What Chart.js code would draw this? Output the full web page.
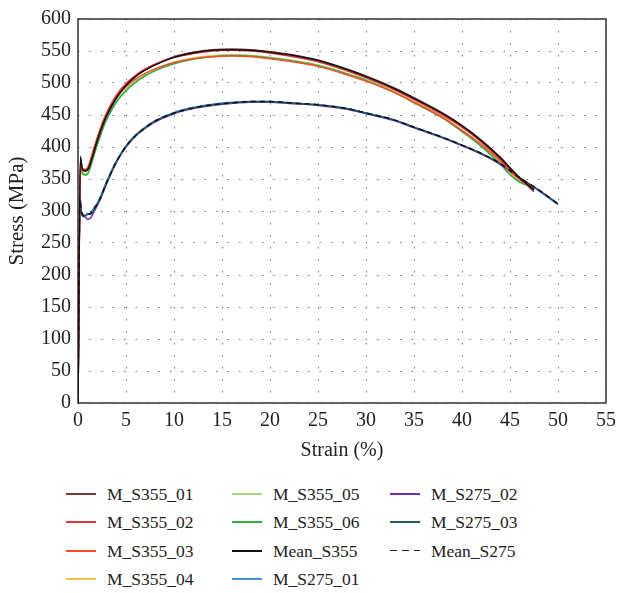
<!DOCTYPE html>
<html>
<head>
<meta charset="utf-8">
<script src="https://cdn.jsdelivr.net/npm/chart.js@4.4.1/dist/chart.umd.min.js"></script>
<style>
  body { margin: 0; background: #fff; }
  #wrap { position: relative; width: 618px; height: 593px; }
  #chartBox { position: absolute; left: 0; top: 0; width: 618px; height: 470px; }
  #legend { position: absolute; left: 0; top: 480px; width: 618px; font-family: "Liberation Serif", serif; font-size: 17.5px; color: #222; }
  .item { position: absolute; height: 28px; line-height: 28px; white-space: nowrap; }
  .swatch { position: absolute; top: 13px; width: 30px; height: 2px; }
  .txt { position: absolute; left: 41px; top: 0; }
</style>
</head>
<body>
<div id="wrap">
  <div id="chartBox"><canvas id="stressChart"></canvas></div>
  <div id="legend"></div>
</div>
<script>
// strain (%) sample points
const strainS355 = [0, 0.25, 0.45, 0.8, 1.1, 1.6, 2, 2.6, 3, 4, 5, 6, 7, 8, 10, 12, 14, 16, 18, 20, 22, 25, 28, 30, 33, 35, 38, 40, 42, 44, 45, 46, 47.5];
const strainS275 = [0, 0.2, 0.35, 0.6, 1.0, 1.3, 1.7, 2.2, 3, 4, 5, 6, 7, 8, 10, 12, 14, 16, 18, 20, 22, 25, 28, 30, 33, 35, 38, 40, 42, 44, 46, 48, 50];

// stress (MPa)
const m355_01 = [0, 382, 364, 362, 366, 388, 408, 434, 448, 476, 496, 511, 521, 529, 541, 548, 552, 553, 552, 549, 545, 536, 522, 511, 492, 477, 453, 434, 411, 384, 368, 352, 330];
const m355_02 = [0, 380, 366, 365, 371, 395, 414, 440, 454, 481, 499, 512, 522, 529, 540, 546, 550, 551, 550, 547, 542, 533, 519, 508, 489, 474, 450, 431, 408, 381, 365, 350, 334];
const m355_03 = [0, 378, 364, 363, 369, 394, 413, 439, 452, 478, 494, 506, 515, 522, 532, 538, 541, 542, 541, 538, 534, 526, 513, 503, 485, 470, 446, 426, 404, 378, 362, 349, 336];
const m355_04 = [0, 373, 361, 358, 362, 386, 405, 431, 445, 472, 490, 503, 513, 521, 532, 539, 543, 544, 543, 540, 536, 528, 515, 505, 486, 471, 447, 426, 403, 376, 361, 347, 337];
const m355_05 = [0, 372, 360, 357, 361, 385, 404, 430, 444, 471, 489, 502, 512, 520, 531, 538, 542, 544, 543, 540, 536, 528, 515, 505, 486, 470, 446, 425, 402, 374, 358, 346, 338];
const m355_06 = [0, 374, 358, 356, 360, 384, 403, 429, 443, 470, 488, 501, 511, 519, 530, 537, 541, 543, 542, 539, 535, 527, 514, 504, 485, 469, 445, 424, 401, 373, 357, 345, 337];
const mean355 = [0, 385, 366, 363, 367, 390, 410, 436, 450, 477, 496, 510, 520, 528, 540, 547, 551, 552, 551, 548, 544, 535, 521, 510, 491, 476, 452, 433, 410, 383, 367, 352, 333];
const m275_01 = [0, 325, 302, 292, 294, 297, 306, 318, 347, 378, 402, 419, 431, 441, 454, 462, 467, 470, 471, 471, 469, 466, 460, 453, 442, 431, 415, 403, 390, 373, 352, 332, 310];
const m275_02 = [0, 315, 298, 294, 287, 289, 300, 314, 343, 376, 400, 417, 429, 439, 452, 460, 465, 468, 470, 470, 468, 465, 459, 452, 441, 430, 414, 402, 389, 373, 351, 332, 311];
const m275_03 = [0, 320, 296, 291, 296, 295, 303, 316, 345, 377, 401, 418, 430, 440, 453, 461, 466, 469, 471, 471, 469, 466, 460, 453, 442, 431, 415, 403, 390, 374, 352, 333, 311];
const mean275 = [0, 318, 300, 293, 295, 296, 304, 316, 345, 377, 401, 418, 430, 440, 453, 461, 466, 469, 471, 471, 469, 466, 460, 453, 442, 431, 415, 403, 390, 374, 352, 333, 311];

const seriesNames = ['M_S355_01', 'M_S355_02', 'M_S355_03', 'M_S355_04', 'M_S355_05', 'M_S355_06', 'Mean_S355', 'M_S275_01', 'M_S275_02', 'M_S275_03', 'Mean_S275'];
const seriesStress = [m355_01, m355_02, m355_03, m355_04, m355_05, m355_06, mean355, m275_01, m275_02, m275_03, mean275];
const seriesColors = ['#7d3a3a', '#e3343c', '#ff4a26', '#f4c24a', '#a6d77e', '#2fae45', '#111111', '#4a8fd0', '#6c2fb0', '#1d5f62', '#111111'];
// draw order: lower number = on top
const seriesOrder = [3, 2, 1, 9, 8, 7, 0, 6, 5, 4, -1];

const FONT = '"Liberation Serif", "Times New Roman", serif';

const datasets = seriesNames.map((name, i) => {
    const strain = i < 7 ? strainS355 : strainS275;
    return {
        label: name,
        data: strain.map((x, j) => ({ x: x, y: seriesStress[i][j] })),
        borderColor: seriesColors[i],
        borderWidth: 1.5,
        borderDash: name === 'Mean_S275' ? [5, 4] : [],
        pointRadius: 0,
        fill: false,
        cubicInterpolationMode: 'monotone',
        order: seriesOrder[i]
    };
});

const boxPlugin = {
    id: 'box',
    beforeDatasetsDraw(chart) {
        const a = chart.chartArea, ctx = chart.ctx;
        ctx.save();
        ctx.strokeStyle = '#333';
        ctx.lineWidth = 1.5;
        ctx.strokeRect(a.left, a.top, a.right - a.left, a.bottom - a.top);
        ctx.restore();
    }
};

const ctx = document.getElementById('stressChart').getContext('2d');
new Chart(ctx, {
    type: 'line',
    data: { datasets: datasets },
    options: {
        responsive: true,
        maintainAspectRatio: false,
        animation: false,
        layout: { padding: { top: 13, right: 12, left: 0, bottom: 0 } },
        plugins: { legend: { display: false }, tooltip: { enabled: false } },
        scales: {
            x: {
                type: 'linear',
                min: 0, max: 55,
                afterFit: s => { s.height = 67; s.paddingRight = 0; },
                ticks: { stepSize: 5, padding: 6, color: '#222', font: { family: FONT, size: 20 } },
                grid: { color: '#777', lineWidth: 1, drawTicks: false },
                border: { display: false, dash: [1.5, 10.5] },
                title: { display: true, text: 'Strain (%)', color: '#222', font: { family: FONT, size: 20 }, padding: { top: 7, bottom: 7 } }
            },
            y: {
                min: 0, max: 600,
                afterFit: s => { s.width = 78; },
                ticks: { stepSize: 50, padding: 7, color: '#222', font: { family: FONT, size: 20 } },
                grid: { color: '#777', lineWidth: 1, drawTicks: false },
                border: { display: false, dash: [1.5, 10] },
                title: { display: true, text: 'Stress (MPa)', color: '#222', font: { family: FONT, size: 21 }, padding: { top: 5, bottom: 5 } }
            }
        }
    },
    plugins: [boxPlugin]
});

// legend laid out in columns like the original
const legendCols = [66, 232, 390];
const legendRowH = 28.3;
const legendEl = document.getElementById('legend');
seriesNames.forEach((name, i) => {
    const col = i < 4 ? 0 : (i < 8 ? 1 : 2);
    const row = i < 4 ? i : (i < 8 ? i - 4 : i - 8);
    const item = document.createElement('div');
    item.className = 'item';
    item.style.left = legendCols[col] + 'px';
    item.style.top = (row * legendRowH) + 'px';
    const sw = document.createElement('div');
    sw.className = 'swatch';
    if (name === 'Mean_S275') {
        sw.style.background = 'repeating-linear-gradient(to right, #222 0 7px, transparent 7px 12px)';
        sw.style.height = '1.5px';
    } else {
        sw.style.background = seriesColors[i];
    }
    const t = document.createElement('span');
    t.className = 'txt';
    t.textContent = name;
    item.appendChild(sw);
    item.appendChild(t);
    legendEl.appendChild(item);
});
</script>
</body>
</html>
